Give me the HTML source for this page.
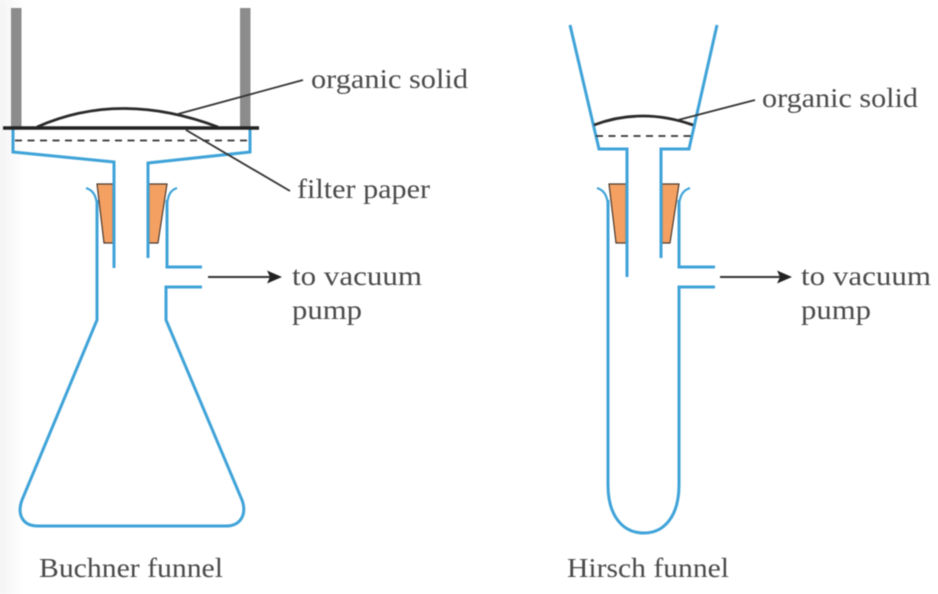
<!DOCTYPE html>
<html><head><meta charset="utf-8"><style>
html,body{margin:0;padding:0;background:#fff;overflow:hidden}
svg{display:block;filter:blur(0.6px)}
text{font-family:"Liberation Serif",serif;font-size:27px;fill:#4a4a4a}
.b{fill:none;stroke:#3fa3d8;stroke-width:3}
.l{fill:none;stroke:#3fa3d8;stroke-width:2.2}
.k{fill:none;stroke:#333;stroke-width:1.8}
.s{fill:#f4a062;stroke:#4a3a30;stroke-width:1.2}
</style></head><body>
<svg width="938" height="594" viewBox="0 0 938 594" xmlns="http://www.w3.org/2000/svg">
<defs><linearGradient id="g" x1="0" x2="1" y1="0" y2="0"><stop offset="0" stop-color="#f4f4f4"/><stop offset="1" stop-color="#fff"/></linearGradient></defs>
<rect width="938" height="594" fill="#fff"/>
<rect width="24" height="594" fill="url(#g)"/>
<!-- Buchner -->
<rect x="11" y="8" width="10.5" height="120" fill="#8c8c8c"/>
<rect x="240" y="8" width="10.5" height="120" fill="#8c8c8c"/>
<path class="s" d="M97 184H113V243H104Z"/>
<path class="s" d="M149 184H167L158 243H149Z"/>
<path class="b" d="M13 129V152L114 162V268"/>
<path class="b" d="M250 129V152L148 163V258"/>
<path class="l" d="M86 188C92 190 96 194 97 205"/>
<path class="l" d="M177 188C171 190 168 194 167 205"/>
<path class="b" d="M97 200V320L22 500C17 514 22 526 38 526H226C241 526 247 514 242 500L166 320V287H202"/>
<path class="b" d="M167 200V267H202"/>
<path d="M37 127Q120 90 218 127" fill="none" stroke="#2a2a2a" stroke-width="2.8"/>
<line x1="3" y1="128" x2="259" y2="128" stroke="#222" stroke-width="3.4"/>
<line x1="15" y1="140.500" x2="250" y2="140.500" stroke="#333" stroke-width="1.8" stroke-dasharray="7 5.500"/>
<line class="k" x1="178" y1="114" x2="303" y2="80"/>
<line class="k" x1="186" y1="130" x2="290" y2="191"/>
<line x1="208" y1="277" x2="272" y2="277" stroke="#333" stroke-width="2"/>
<path d="M267 270.500L282 277L267 283.500L270 277Z" fill="#222"/>
<!-- Hirsch -->
<path class="s" d="M609 184H626V243H616Z"/>
<path class="s" d="M662 184H679L670 243H662Z"/>
<path class="b" d="M570 25L599 149H627V277"/>
<path class="b" d="M717 25L689 149H661V258"/>
<path class="l" d="M597 188C603 190 607 194 608 205"/>
<path class="l" d="M690 188C684 190 680 194 679 205"/>
<path class="b" d="M608 200V485C608 515 622 533 644 533C665 533 679 515 679 485V287H715"/>
<path class="b" d="M679 200V267H715"/>
<path d="M594 125Q642 107 693 125" fill="none" stroke="#2a2a2a" stroke-width="2.8"/>
<line x1="596" y1="136" x2="691" y2="136" stroke="#333" stroke-width="1.8" stroke-dasharray="7 5.500"/>
<line class="k" x1="678" y1="120" x2="755" y2="100"/>
<line x1="720" y1="277" x2="782" y2="277" stroke="#333" stroke-width="2"/>
<path d="M777 270.500L792 277L777 283.500L780 277Z" fill="#222"/>
<!-- labels -->
<text x="311" y="88" textLength="157" lengthAdjust="spacingAndGlyphs">organic solid</text>
<text x="297" y="198" textLength="133" lengthAdjust="spacingAndGlyphs">filter paper</text>
<text x="292" y="285" textLength="130" lengthAdjust="spacingAndGlyphs">to vacuum</text>
<text x="292" y="319" textLength="70" lengthAdjust="spacingAndGlyphs">pump</text>
<text x="762" y="107" textLength="156" lengthAdjust="spacingAndGlyphs">organic solid</text>
<text x="801" y="285" textLength="130" lengthAdjust="spacingAndGlyphs">to vacuum</text>
<text x="801" y="319" textLength="70" lengthAdjust="spacingAndGlyphs">pump</text>
<text x="39" y="577" textLength="184" lengthAdjust="spacingAndGlyphs">Buchner funnel</text>
<text x="567" y="577" textLength="162" lengthAdjust="spacingAndGlyphs">Hirsch funnel</text>
</svg>
</body></html>
